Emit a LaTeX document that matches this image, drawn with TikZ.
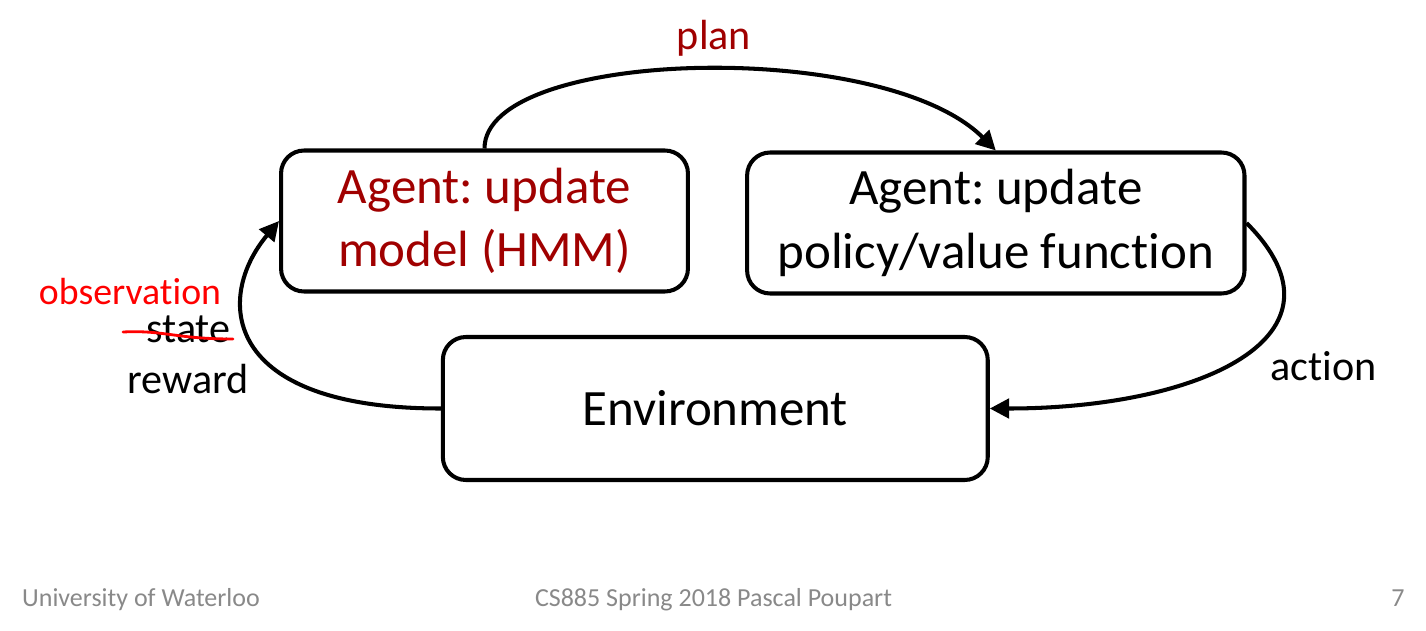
\documentclass[tikz,border=0pt]{standalone}
\usepackage{fontspec}
\setmainfont[Ligatures=NoCommon]{Carlito}
\usepackage{tikz}
\usetikzlibrary{arrows.meta}
\definecolor{modelred}{RGB}{160,0,0}
\definecolor{footgray}{RGB}{137,137,137}
\frenchspacing

\begin{document}
\begin{tikzpicture}[x=0.02cm, y=0.02cm, every node/.style={font=\fontsize{24}{29}\selectfont, inner sep=0pt}, >={Triangle[length=11pt, width=11pt]},
	box/.style={draw, line width=2.3pt, rounded corners=0.46cm, align=center, font=\fontsize{29}{36}\selectfont, minimum height=2.82cm},
	flow/.style={->, line width=2.3pt},
	foot/.style={footgray, font=\fontsize{14.8}{18}\selectfont, anchor=base}]
	\useasboundingbox (0,0) rectangle (1426,630);
	\node[box, text=modelred, minimum width=8.14cm] (model) at (484.5,409) {Agent: update\\model (HMM)};
	\node[box, minimum width=9.95cm] (policy) at (995.8,407) {Agent: update\\policy/value function};
	\node[box, minimum width=10.9cm, minimum height=2.86cm] (env) at (715.3,221.5) {Environment};
	\draw[flow] (model.north) to[out=90, in=135, out distance=2cm, in distance=3.2cm] (policy.north);
	\draw[flow] (policy.east) to[out=-45, in=0, out distance=3.2cm, in distance=4.2cm] (env.east);
	\draw[flow] (env.west) to[out=180, in=230, out distance=4.4cm, in distance=2cm] (model.west);
	\node[modelred, anchor=base] (planlbl) at (714,581) {plan};
	\node[red, anchor=base, font=\fontsize{21.5}{26}\selectfont] (obslbl) at (130,326) {observation};
	\node[anchor=base] (statelbl) at (188.5,288) {state};
	\node[anchor=base] (rewardlbl) at (188,237) {reward};
	\node[anchor=base] (actionlbl) at (1323.5,250) {action};
	\draw[red, line width=1.6pt, line cap=round] (123,298) .. controls (165,300) and (175,291) .. (233,291);
	\node[foot] (uni) at (141,24) {University of Waterloo};
	\node[foot] (course) at (713.5,24) {CS885 Spring 2018 Pascal Poupart};
	\node[foot, anchor=base east] (pagenum) at (1405,24) {7};
\end{tikzpicture}
\end{document}
